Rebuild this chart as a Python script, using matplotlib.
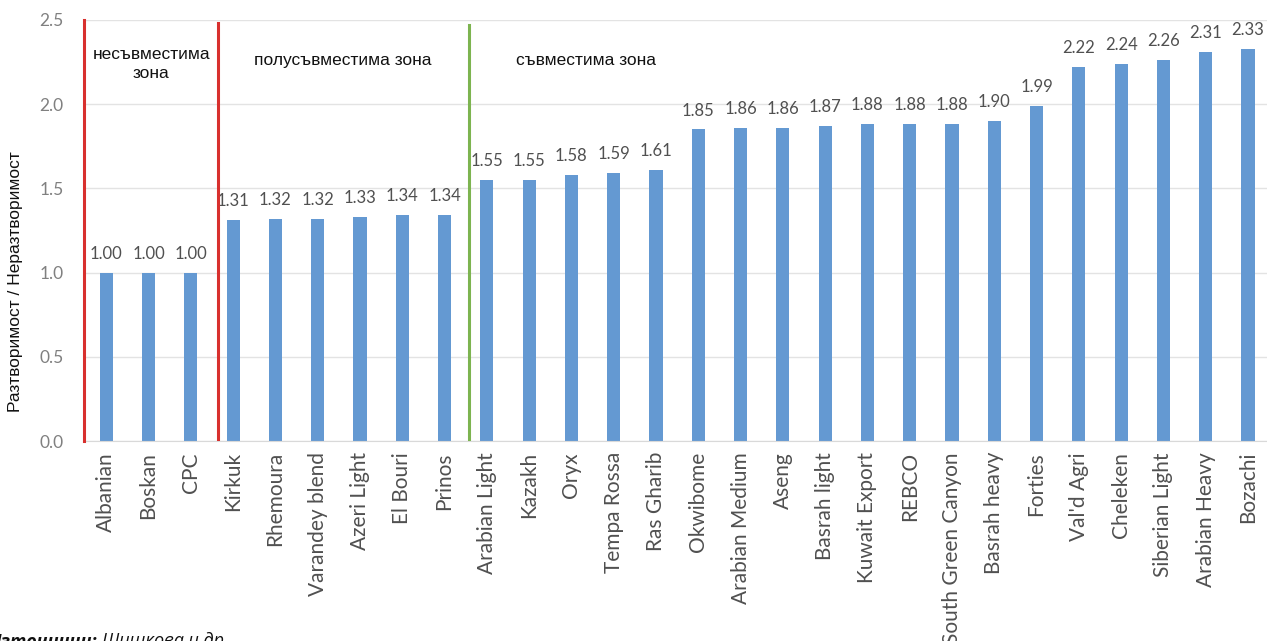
import matplotlib
matplotlib.use("Agg")
import matplotlib.pyplot as plt

categories = ["Albanian", "Boskan", "CPC", "Kirkuk", "Rhemoura", "Varandey blend",
              "Azeri Light", "El Bouri", "Prinos", "Arabian Light", "Kazakh", "Oryx",
              "Tempa Rossa", "Ras Gharib", "Okwibome", "Arabian Medium", "Aseng",
              "Basrah light", "Kuwait Export", "REBCO", "South Green Canyon",
              "Basrah heavy", "Forties", "Val'd Agri", "Cheleken", "Siberian Light",
              "Arabian Heavy", "Bozachi"]
values = [1.00, 1.00, 1.00, 1.31, 1.32, 1.32, 1.33, 1.34, 1.34, 1.55, 1.55, 1.58,
          1.59, 1.61, 1.85, 1.86, 1.86, 1.87, 1.88, 1.88, 1.88, 1.90, 1.99, 2.22,
          2.24, 2.26, 2.31, 2.33]
value_labels = [f"{v:.2f}" for v in values]
zone_names = ["несъвместима\nзона", "полусъвместима зона", "съвместима зона"]
ylabel = "Разтворимост / Неразтворимост"
yticks = [0.0, 0.5, 1.0, 1.5, 2.0, 2.5]

W, H = 1267, 641
fig = plt.figure(figsize=(W / 100, H / 100), dpi=100)
ax = fig.add_axes([83 / W, 1 - 441 / H, 1 - 83 / W, (441 - 20) / H])

x = list(range(len(categories)))
ax.bar(x, values, width=0.31, color="#6499D2", zorder=2)
for xi, v, lab in zip(x, values, value_labels):
    ax.text(xi, v + 0.065, lab, ha="center", va="bottom", fontsize=12,
            family="Lato", color="#505050")

ax.set_xlim(-0.55, 27.45)
ax.set_ylim(0, 2.5)
ax.set_yticks(yticks)
ax.set_yticklabels([f"{t:.1f}" for t in yticks], family="Lato", fontsize=12.5, color="#808080")
ax.set_xticks(x)
ax.set_xticklabels(categories, rotation=90, family="Lato", fontsize=15, color="#505050")
ax.tick_params(axis="both", length=0, pad=8)
ax.tick_params(axis="y", pad=14)
for s in ["top", "right", "left"]:
    ax.spines[s].set_visible(False)
ax.spines["bottom"].set_color("#d9d9d9")
ax.grid(axis="y", color="#e3e3e3", linewidth=1, zorder=0)
ax.set_axisbelow(True)

# zone separators
ax.plot([-0.52, -0.52], [0, 2.5], color="#D8302E", linewidth=2.2, zorder=3, clip_on=False)
ax.plot([2.65, 2.65], [0, 2.48], color="#D8302E", linewidth=2.2, zorder=3)
ax.plot([8.58, 8.58], [0, 2.47], color="#7DB450", linewidth=2.2, zorder=3)

ax.text(1.06, 2.24, zone_names[0], ha="center", va="center", fontsize=12.5,
        family="Liberation Sans", color="#111111", linespacing=1.35)
ax.text(5.6, 2.26, zone_names[1], ha="center", va="center", fontsize=12.5,
        family="Liberation Sans", color="#111111")
ax.text(11.34, 2.26, zone_names[2], ha="center", va="center", fontsize=12.5,
        family="Liberation Sans", color="#111111")

fig.text(16 / W, 1 - 282 / H, ylabel, rotation=90, ha="center", va="center",
         fontsize=12.5, family="Liberation Sans", color="#111111")

fig.text(97 / W, 1 - 641 / H, "Източници:", ha="right", va="center",
         fontsize=13, family="Open Sans", weight="bold", style="italic", color="#111111")
fig.text(102 / W, 1 - 641 / H, "Шишкова и др.", ha="left", va="center",
         fontsize=13, family="Open Sans", style="italic", color="#111111")

fig.savefig("out.png", dpi=100)
